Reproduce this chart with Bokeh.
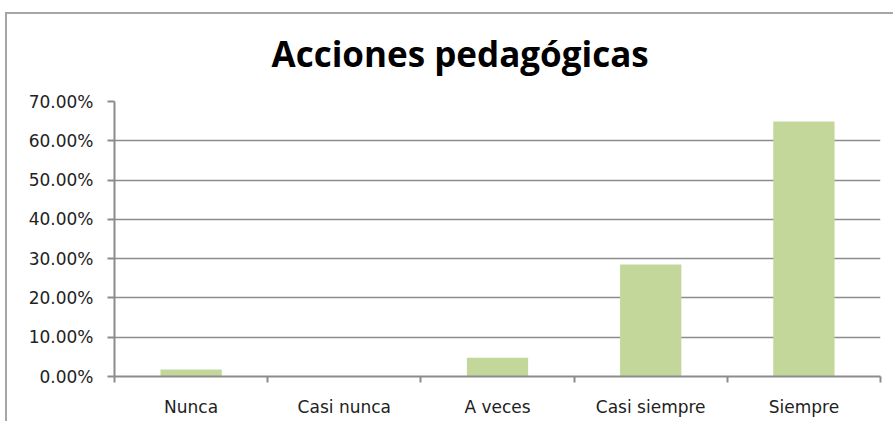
from bokeh.plotting import figure
from bokeh.models import Range1d, FixedTicker, NumeralTickFormatter
from bokeh.embed import file_html
from bokeh.resources import INLINE

categories = ["Nunca", "Casi nunca", "A veces", "Casi siempre", "Siempre"]
values = [0.018, 0.0, 0.048, 0.285, 0.649]
y_ticks = [0.0, 0.1, 0.2, 0.3, 0.4, 0.5, 0.6, 0.7]
title_text = "Acciones pedagógicas"

positions = [i + 0.5 for i in range(len(categories))]
boundaries = [float(i) for i in range(len(categories) + 1)]

p = figure(width=893, height=421, x_range=Range1d(0, len(categories)), y_range=Range1d(0, 0.7),
           output_backend="svg", toolbar_location=None,
           min_border_left=114, min_border_right=13, min_border_top=101, min_border_bottom=45)
# chart area border (top and left edges) drawn behind a transparent canvas
p.styles = {"background": ("linear-gradient(#a6a6a6, #a6a6a6) 5px 12px / 100% 2px no-repeat, "
                           "linear-gradient(#a6a6a6, #a6a6a6) 5px 12px / 2px 100% no-repeat, white")}
p.border_fill_color = None
p.background_fill_color = "white"

p.title.text = title_text
p.title.text_font = "Open Sans"
p.title.text_font_style = "bold"
p.title.text_font_size = "35px"
p.title.align = "left"
p.title.offset = 157
p.title.standoff = 50
p.title.text_color = "#000000"

p.vbar(x=positions, top=values, width=0.4, color="#c4d79b", line_color=None)

# y axis
p.yaxis.ticker = FixedTicker(ticks=y_ticks, minor_ticks=[])
p.yaxis.formatter = NumeralTickFormatter(format="0.00%")
p.yaxis.axis_line_color = "#8c8c8c"
p.yaxis.axis_line_width = 2
p.yaxis.major_tick_line_color = "#8c8c8c"
p.yaxis.major_tick_line_width = 2
p.yaxis.major_tick_out = 7
p.yaxis.major_tick_in = 0
p.yaxis.minor_tick_line_color = None
p.yaxis.major_label_standoff = 14
p.yaxis.major_label_text_font = "DejaVu Sans"
p.yaxis.major_label_text_font_size = "17px"
p.yaxis.major_label_text_color = "#222222"

# x axis
p.xaxis.ticker = FixedTicker(ticks=positions, minor_ticks=boundaries)
p.xaxis.major_label_overrides = {pos: cat for pos, cat in zip(positions, categories)}
p.xaxis.axis_line_color = "#8c8c8c"
p.xaxis.axis_line_width = 2
p.xaxis.major_tick_line_color = None
p.xaxis.major_tick_out = 0
p.xaxis.major_tick_in = 0
p.xaxis.minor_tick_line_color = "#8c8c8c"
p.xaxis.minor_tick_line_width = 2
p.xaxis.minor_tick_out = 6
p.xaxis.minor_tick_in = 0
p.xaxis.major_label_standoff = 14
p.xaxis.major_label_text_font = "DejaVu Sans"
p.xaxis.major_label_text_font_size = "17px"
p.xaxis.major_label_text_color = "#222222"

p.xgrid.grid_line_color = None
p.ygrid.ticker = FixedTicker(ticks=y_ticks)
p.ygrid.grid_line_color = "#8c8c8c"
p.ygrid.grid_line_width = 1.5

p.outline_line_color = None

open("out.html", "w").write(file_html(p, INLINE))
